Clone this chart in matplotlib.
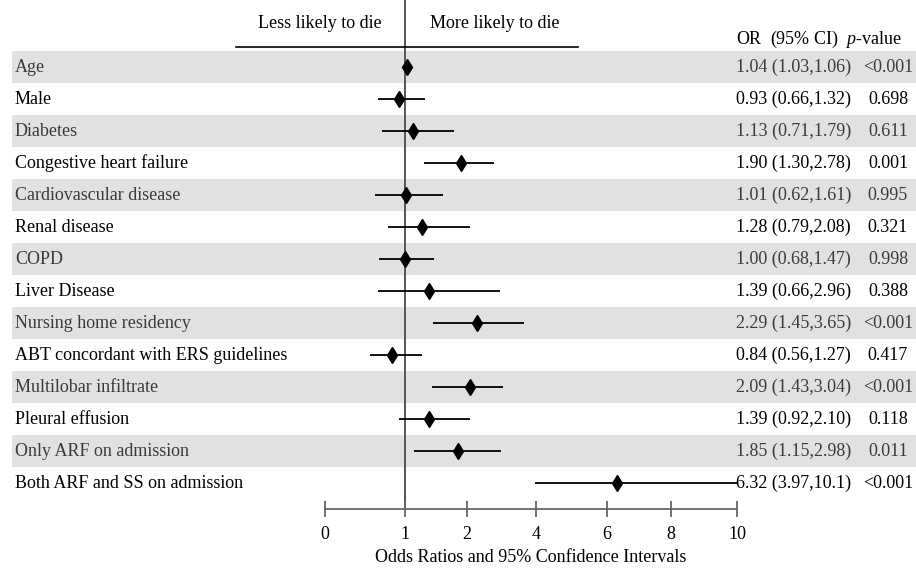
import numpy as np
import matplotlib
matplotlib.use("Agg")
import matplotlib.pyplot as plt
from matplotlib.patches import Rectangle
from matplotlib.lines import Line2D
from matplotlib.transforms import blended_transform_factory

plt.rcParams['font.family'] = ['Liberation Serif', 'DejaVu Serif']
plt.rcParams['mathtext.fontset'] = 'custom'
plt.rcParams['mathtext.rm'] = 'Liberation Serif'
plt.rcParams['mathtext.it'] = 'Liberation Serif:italic'

# ---- data ----
labels = ["Age", "Male", "Diabetes", "Congestive heart failure",
          "Cardiovascular disease", "Renal disease", "COPD", "Liver Disease",
          "Nursing home residency", "ABT concordant with ERS guidelines",
          "Multilobar infiltrate", "Pleural effusion", "Only ARF on admission",
          "Both ARF and SS on admission"]
or_vals = [1.04, 0.93, 1.13, 1.90, 1.01, 1.28, 1.00, 1.39, 2.29, 0.84, 2.09, 1.39, 1.85, 6.32]
ci_low = [1.03, 0.66, 0.71, 1.30, 0.62, 0.79, 0.68, 0.66, 1.45, 0.56, 1.43, 0.92, 1.15, 3.97]
ci_high = [1.06, 1.32, 1.79, 2.78, 1.61, 2.08, 1.47, 2.96, 3.65, 1.27, 3.04, 2.10, 2.98, 10.1]
p_values = ["<0.001", "0.698", "0.611", "0.001", "0.995", "0.321", "0.998",
            "0.388", "<0.001", "0.417", "<0.001", "0.118", "0.011", "<0.001"]
x_ticks = [0, 1, 2, 4, 6, 8, 10]
x_tick_labels = ["0", "1", "2", "4", "6", "8", "10"]

# non-uniform axis as drawn in the original (tick value -> axis units)
scale_vals = [0, 1, 2, 4, 6, 8, 10]
scale_units = [0, 80, 142, 211, 282, 346, 412]


def fwd(v):
    return np.interp(v, scale_vals, scale_units)


def inv(u):
    return np.interp(u, scale_units, scale_vals)


def fmt(v):
    return f"{v:.2f}" if v < 10 else f"{v:.1f}"


W, H = 916, 568
fig = plt.figure(figsize=(W / 100, H / 100), dpi=100)
ax = fig.add_axes([325 / W, (H - 509) / H, (737 - 325) / W, 509 / H])
ax.set_xscale('function', functions=(fwd, inv))
ax.set_xlim(0, 10)
n = len(labels)
ax.set_ylim(13.81, -2.094)

trans = blended_transform_factory(fig.transFigure, ax.transData)

band_color = "#e1e1e1"
for i in range(n):
    if i % 2 == 0:
        ax.add_patch(Rectangle((12 / W, i - 0.5), 1 - 12 / W, 1, transform=trans,
                               facecolor=band_color, edgecolor='none',
                               zorder=0, clip_on=False))

ax.axvline(1, color="#555555", lw=1.4, zorder=1)

y = np.arange(n)
ax.hlines(y, ci_low, ci_high, color="black", lw=1.3, zorder=2)
ax.plot(or_vals, y, linestyle='none', marker='d', markersize=8,
        color="black", zorder=3)

fs = 13
for i in range(n):
    col = "#3a3a3a" if i % 2 == 0 else "black"
    ax.text(15 / W, i, labels[i], transform=trans, ha='left', va='center',
            fontsize=fs, color=col)
    ax.text(736 / W, i, f"{fmt(or_vals[i])} ({fmt(ci_low[i])},{fmt(ci_high[i])})",
            transform=trans, ha='left', va='center', fontsize=fs, color=col)
    ax.text(888 / W, i, p_values[i], transform=trans, ha='center', va='center',
            fontsize=fs, color=col)

# headers
fig.text(320 / W, 1 - 23 / H, "Less likely to die", ha='center', va='center', fontsize=fs)
fig.text(495 / W, 1 - 23 / H, "More likely to die", ha='center', va='center', fontsize=fs)
fig.text(736 / W, 1 - 39 / H, r"OR  (95% CI)  $p$-value", ha='left', va='center', fontsize=fs)
fig.add_artist(Line2D([236 / W, 578 / W], [1 - 47 / H, 1 - 47 / H], color="black", lw=1.2))

# axis styling
for s in ['top', 'right', 'left']:
    ax.spines[s].set_visible(False)
ax.spines['bottom'].set_color("#666666")
ax.spines['bottom'].set_linewidth(1.3)
ax.set_yticks([])
ax.set_xticks(x_ticks)
ax.set_xticklabels(x_tick_labels, fontsize=fs)
ax.xaxis.set_minor_locator(matplotlib.ticker.NullLocator())
ax.tick_params(axis='x', direction='inout', length=11, width=1.3, color="#666666", pad=7)
ax.set_xlabel("Odds Ratios and 95% Confidence Intervals", fontsize=fs, labelpad=4)

fig.savefig("out.png", dpi=100)
